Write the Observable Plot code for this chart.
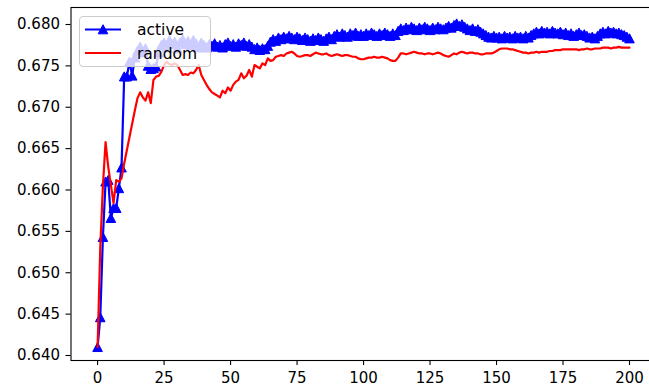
<!DOCTYPE html>
<html>
<head>
<meta charset="utf-8">
<script src="https://cdn.jsdelivr.net/npm/d3@7"></script>
<script src="https://cdn.jsdelivr.net/npm/@observablehq/plot@0.6"></script>
<style>
  html, body { margin: 0; padding: 0; background: #fff; overflow: hidden; }
  #wrap { position: relative; width: 649px; height: 388px; overflow: hidden; }
  #wrap > svg { max-width: none !important; height: 388px !important; display: block; }
  #legend {
    position: absolute; left: 79px; top: 16px; width: 130px; height: 49px;
    background: rgba(255,255,255,0.8); border: 1px solid #cccccc; border-radius: 4px;
  }
  #legend svg { display: block; }
</style>
</head>
<body>
<div id="wrap"></div>
<script>
const seriesNames = ["active", "random"];
const xTicks = [0, 25, 50, 75, 100, 125, 150, 175, 200];
const yTicks = [0.640, 0.645, 0.650, 0.655, 0.660, 0.665, 0.670, 0.675, 0.680];

const active = [
  0.6410, 0.6446, 0.6543, 0.6610, 0.6612, 0.6566, 0.6578, 0.6578, 0.6602, 0.6627,
  0.6737, 0.6737, 0.6755, 0.6738, 0.6760, 0.6768, 0.6773, 0.6766, 0.6771, 0.6750,
  0.6746, 0.6747, 0.6749, 0.6766, 0.6775, 0.6778, 0.6772, 0.6781, 0.6776, 0.6779,
  0.6771, 0.6778, 0.6782, 0.6776, 0.6780, 0.6775, 0.6781, 0.6777, 0.6772, 0.6778,
  0.6775, 0.6772, 0.6776, 0.6774, 0.6777, 0.6773, 0.6775, 0.6772, 0.6776, 0.6778,
  0.6774, 0.6776, 0.6773, 0.6777, 0.6775, 0.6778, 0.6774, 0.6776, 0.6773, 0.6770,
  0.6772, 0.6769, 0.6771, 0.6770, 0.6774, 0.6779, 0.6782, 0.6780, 0.6784, 0.6782,
  0.6785, 0.6783, 0.6786, 0.6784, 0.6782, 0.6785, 0.6783, 0.6781, 0.6784, 0.6782,
  0.6780, 0.6783, 0.6781, 0.6784, 0.6782, 0.6780, 0.6783, 0.6785, 0.6782, 0.6786,
  0.6788, 0.6785, 0.6789, 0.6787, 0.6785, 0.6789, 0.6787, 0.6790, 0.6786, 0.6788,
  0.6786, 0.6789, 0.6787, 0.6790, 0.6788, 0.6786, 0.6789, 0.6787, 0.6790, 0.6788,
  0.6786, 0.6789, 0.6787, 0.6792, 0.6795, 0.6793, 0.6796, 0.6794, 0.6797, 0.6795,
  0.6793, 0.6796, 0.6794, 0.6797, 0.6795, 0.6793, 0.6796, 0.6794, 0.6797, 0.6795,
  0.6794, 0.6796, 0.6798, 0.6796, 0.6799, 0.6801, 0.6798, 0.6800, 0.6797, 0.6795,
  0.6793, 0.6795, 0.6792, 0.6794, 0.6791, 0.6789, 0.6787, 0.6785, 0.6784, 0.6786,
  0.6784, 0.6785, 0.6783, 0.6786, 0.6784, 0.6785, 0.6783, 0.6786, 0.6784, 0.6785,
  0.6783, 0.6786, 0.6784, 0.6787, 0.6789, 0.6791, 0.6789, 0.6792, 0.6790, 0.6791,
  0.6789, 0.6792, 0.6790, 0.6789, 0.6791, 0.6788, 0.6790, 0.6787, 0.6789, 0.6786,
  0.6788, 0.6790, 0.6787, 0.6788, 0.6786, 0.6784, 0.6785, 0.6783, 0.6786, 0.6789,
  0.6791, 0.6789, 0.6792, 0.6790, 0.6791, 0.6789, 0.6790, 0.6788, 0.6787, 0.6785,
  0.6783
];

const random = [
  0.6410, 0.6530, 0.6605, 0.6658, 0.6628, 0.6606, 0.6584, 0.6612, 0.6610, 0.6614,
  0.6632, 0.6648, 0.6664, 0.6680, 0.6696, 0.6711, 0.6718, 0.6712, 0.6708, 0.6718,
  0.6705, 0.6733, 0.6737, 0.6738, 0.6743, 0.6751, 0.6755, 0.6752, 0.6751, 0.6753,
  0.6751, 0.6745, 0.6739, 0.6740, 0.6739, 0.6742, 0.6741, 0.6745, 0.6751, 0.6739,
  0.6733, 0.6727, 0.6722, 0.6718, 0.6716, 0.6714, 0.6712, 0.6720, 0.6717, 0.6724,
  0.6720, 0.6727, 0.6731, 0.6733, 0.6741, 0.6735, 0.6738, 0.6745, 0.6737, 0.6751,
  0.6749, 0.6747, 0.6753, 0.6751, 0.6759, 0.6756, 0.6757, 0.6761, 0.6762, 0.6763,
  0.6762, 0.6765, 0.6766, 0.6767, 0.6765, 0.6762, 0.6761, 0.6762, 0.6763, 0.6763,
  0.6762, 0.6764, 0.6766, 0.6765, 0.6764, 0.6764, 0.6765, 0.6763, 0.6762, 0.6763,
  0.6764, 0.6763, 0.6762, 0.6763, 0.6763, 0.6762, 0.6761, 0.6761, 0.6759, 0.6758,
  0.6758, 0.6759, 0.6760, 0.6760, 0.6761, 0.6760, 0.6760, 0.6761, 0.6760, 0.6759,
  0.6757, 0.6756, 0.6756, 0.6760, 0.6765, 0.6765, 0.6764, 0.6765, 0.6766, 0.6767,
  0.6766, 0.6765, 0.6765, 0.6764, 0.6765, 0.6765, 0.6764, 0.6765, 0.6766, 0.6765,
  0.6763, 0.6762, 0.6761, 0.6763, 0.6765, 0.6764, 0.6766, 0.6767, 0.6766, 0.6765,
  0.6766, 0.6766, 0.6765, 0.6765, 0.6764, 0.6764, 0.6765, 0.6765, 0.6765, 0.6766,
  0.6768, 0.6770, 0.6771, 0.6771, 0.6771, 0.6770, 0.6770, 0.6769, 0.6768, 0.6767,
  0.6766, 0.6766, 0.6765, 0.6766, 0.6766, 0.6767, 0.6766, 0.6767, 0.6767, 0.6767,
  0.6768, 0.6768, 0.6769, 0.6769, 0.6769, 0.6770, 0.6770, 0.6770, 0.6770, 0.6770,
  0.6770, 0.6769, 0.6770, 0.6770, 0.6771, 0.6770, 0.6770, 0.6771, 0.6771, 0.6771,
  0.6772, 0.6772, 0.6772, 0.6771, 0.6772, 0.6772, 0.6773, 0.6772, 0.6772, 0.6772,
  0.6772
];

const colors = { active: "#0000ff", random: "#ff0000" };

// matplotlib-like "^" marker
const mplTriangle = {
  draw(context, size) {
    const r = Math.sqrt(size / Math.PI);
    context.moveTo(0, -r);
    context.lineTo(r, r * 0.9);
    context.lineTo(-r, r * 0.9);
    context.closePath();
  }
};

const chart = Plot.plot({
  width: 656,
  height: 388,
  marginLeft: 70.5,
  marginRight: 0.4,
  marginTop: 7,
  marginBottom: 28,
  style: { fontFamily: "DejaVu Sans, sans-serif", fontSize: "15px", color: "#000", background: "#fff", maxWidth: "none" },
  x: { domain: [-10, 210] },
  y: { domain: [0.639396, 0.682054] },
  marks: [
    Plot.axisX({ ticks: xTicks, tickSize: 5, tickPadding: 7, label: null, fontSize: 15, strokeWidth: 1.1 }),
    Plot.axisY({ ticks: yTicks, tickFormat: d3.format(".3f"), tickSize: 5, tickPadding: 6, label: null, fontSize: 15, strokeWidth: 1.1 }),
    Plot.line(active, { x: (d, i) => i, y: d => d, stroke: colors.active, strokeWidth: 2.2 }),
    Plot.dot(active, { x: (d, i) => i, y: d => d, symbol: mplTriangle, r: 4.8, fill: colors.active, stroke: colors.active, strokeWidth: 1 }),
    Plot.line(random, { x: (d, i) => i, y: d => d, stroke: colors.random, strokeWidth: 2.2 }),
    Plot.frame({ stroke: "#000", strokeWidth: 1.1 })
  ]
});

const wrap = document.getElementById("wrap");
wrap.appendChild(chart);

// legend (matplotlib style, upper left, over the axes)
const legend = document.createElement("div");
legend.id = "legend";
const ns = "http://www.w3.org/2000/svg";
const lsvg = document.createElementNS(ns, "svg");
lsvg.setAttribute("width", "130");
lsvg.setAttribute("height", "49");
seriesNames.forEach((name, k) => {
  const cy = 12.5 + k * 23.5;
  const line = document.createElementNS(ns, "line");
  line.setAttribute("x1", 5); line.setAttribute("x2", 41);
  line.setAttribute("y1", cy); line.setAttribute("y2", cy);
  line.setAttribute("stroke", colors[name]); line.setAttribute("stroke-width", 2.2);
  lsvg.appendChild(line);
  if (name === "active") {
    const tri = document.createElementNS(ns, "path");
    const r = 4.8, cx = 23;
    tri.setAttribute("d", `M${cx},${cy - r}L${cx + r},${cy + r * 0.9}L${cx - r},${cy + r * 0.9}Z`);
    tri.setAttribute("fill", colors[name]); tri.setAttribute("stroke", colors[name]);
    lsvg.appendChild(tri);
  }
  const t = document.createElementNS(ns, "text");
  t.setAttribute("x", 57); t.setAttribute("y", cy);
  t.setAttribute("dy", "0.36em");
  t.setAttribute("font-family", "DejaVu Sans, sans-serif");
  t.setAttribute("font-size", "15.5");
  t.setAttribute("fill", "#000");
  t.textContent = name;
  lsvg.appendChild(t);
});
legend.appendChild(lsvg);
wrap.appendChild(legend);
</script>
</body>
</html>
